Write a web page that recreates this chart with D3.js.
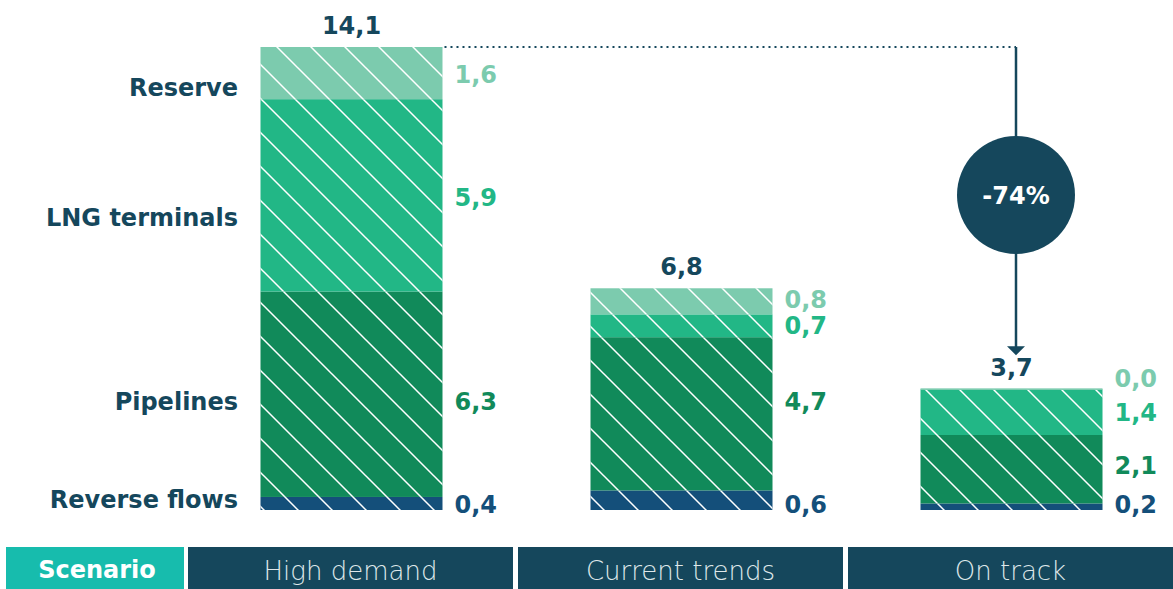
<!DOCTYPE html>
<html>
<head>
<meta charset="utf-8">
<script src="https://cdn.jsdelivr.net/npm/d3@7"></script>
<style>
  body { margin: 0; background: #fff; }
  svg { display: block; font-family: "DejaVu Sans", sans-serif; }
</style>
</head>
<body>
<script>
// chart data
const scenarios = ["High demand", "Current trends", "On track"];
const categories = ["Reverse flows", "Pipelines", "LNG terminals", "Reserve"];
const reverseFlows = [0.4, 0.6, 0.2];
const pipelines = [6.3, 4.7, 2.1];
const lngTerminals = [5.9, 0.7, 1.4];
const reserve = [1.6, 0.8, 0.0];
const totals = [14.1, 6.8, 3.7];
const changeLabel = "-74%";

const colors = {"Reverse flows": "#144f7a", "Pipelines": "#118a5a", "LNG terminals": "#22b786", "Reserve": "#7ccbae"};
const dark = "#15475c";

const W = 1173, H = 589;
const svg = d3.select("body").append("svg").attr("width", W).attr("height", H);

// hatch pattern
const defs = svg.append("defs");
const pat = defs.append("pattern")
  .attr("id", "hatch").attr("patternUnits", "userSpaceOnUse")
  .attr("patternTransform", "translate(26,0)")
  .attr("width", 34).attr("height", 34);
pat.append("path")
  .attr("d", "M0,0 L34,34 M-2,32 L2,36 M32,-2 L36,2")
  .attr("stroke", "#fff").attr("stroke-width", 1.5);

// rows for stacking
const rows = scenarios.map((s, i) => ({
  scenario: s,
  "Reverse flows": reverseFlows[i],
  "Pipelines": pipelines[i],
  "LNG terminals": lngTerminals[i],
  "Reserve": reserve[i]
}));
const series = d3.stack().keys(categories)(rows);

const x = d3.scaleBand().domain(scenarios).range([188, 1173]).paddingInner(0.0152);
const barW = 182;
const y = d3.scaleLinear().domain([0, d3.max(series[series.length - 1], d => d[1])]).range([510, 47]);
const barX = s => x(s) + x.bandwidth() / 2 - barW / 2 + 1;

// bars
const g = svg.append("g");
series.forEach(ser => {
  g.selectAll(null).data(ser).join("rect")
    .attr("x", d => barX(d.data.scenario))
    .attr("y", d => y(d[1]))
    .attr("width", barW)
    .attr("height", d => Math.max(0, y(d[0]) - y(d[1])))
    .attr("fill", colors[ser.key]);
  g.selectAll(null).data(ser).join("rect")
    .attr("x", d => barX(d.data.scenario))
    .attr("y", d => y(d[1]))
    .attr("width", barW)
    .attr("height", d => Math.max(0, y(d[0]) - y(d[1])))
    .attr("fill", "url(#hatch)");
});
// thin light line on top of empty reserve segment
g.selectAll(null).data(series[3].filter(d => d[1] - d[0] === 0)).join("rect")
  .attr("x", d => barX(d.data.scenario)).attr("y", d => y(d[1]) - 1)
  .attr("width", barW).attr("height", 1.5).attr("fill", colors["Reserve"]);

const fmt = v => v.toFixed(1).replace(".", ",");

// category labels on the left (next to first bar)
const catOffset = {"Reverse flows": -3, "Pipelines": 8, "LNG terminals": 23, "Reserve": 15};
series.forEach(ser => {
  const d = ser[0];
  svg.append("text")
    .attr("x", 238).attr("y", (y(d[0]) + y(d[1])) / 2 + catOffset[ser.key])
    .attr("text-anchor", "end").attr("dominant-baseline", "central")
    .attr("font-size", 24).attr("font-weight", 700).attr("fill", dark)
    .text(ser.key);
});

// value labels to the right of the bars
const valOffset = [
  {"Reverse flows": 1.5, "Pipelines": 8, "LNG terminals": 3, "Reserve": 2},
  {"Reverse flows": 5, "Pipelines": -12, "LNG terminals": 0, "Reserve": -1},
  {"Reverse flows": -2, "Pipelines": -3, "LNG terminals": 1, "Reserve": -10}
];
series.forEach(ser => {
  ser.forEach((d, i) => {
    const mid = (y(d[0]) + y(d[1])) / 2;
    svg.append("text")
      .attr("x", barX(d.data.scenario) + barW + 12)
      .attr("y", mid + valOffset[i][ser.key])
      .attr("dominant-baseline", "central")
      .attr("font-size", 24).attr("font-weight", 700).attr("fill", colors[ser.key])
      .text(fmt(d[1] - d[0]));
  });
});

// totals
svg.selectAll(null).data(scenarios).join("text")
  .attr("x", s => x(s) + x.bandwidth() / 2 + 1)
  .attr("y", (s, i) => y(d3.max(series, ser => ser[i][1])) - 21)
  .attr("text-anchor", "middle").attr("dominant-baseline", "central")
  .attr("font-size", 24).attr("font-weight", 700).attr("fill", dark)
  .text((s, i) => fmt(totals[i]));

// change indicator
const top1 = y(d3.max(series, ser => ser[0][1]));
const arrowX = 1016;
svg.append("line")
  .attr("x1", barX(scenarios[0]) + barW + 2).attr("x2", arrowX)
  .attr("y1", top1).attr("y2", top1)
  .attr("stroke", dark).attr("stroke-width", 2.2).attr("stroke-dasharray", "2,4");
const top3 = y(d3.max(series, ser => ser[2][1]));
svg.append("line")
  .attr("x1", arrowX).attr("x2", arrowX)
  .attr("y1", top1).attr("y2", top3 - 42)
  .attr("stroke", dark).attr("stroke-width", 2.5);
svg.append("path")
  .attr("d", `M${arrowX - 9},${top3 - 43} L${arrowX + 9},${top3 - 43} L${arrowX},${top3 - 34} Z`)
  .attr("fill", dark);
svg.append("circle").attr("cx", arrowX).attr("cy", 195).attr("r", 59).attr("fill", dark);
svg.append("text")
  .attr("x", arrowX).attr("y", 196)
  .attr("text-anchor", "middle").attr("dominant-baseline", "central")
  .attr("font-size", 24).attr("font-weight", 700).attr("fill", "#fff")
  .text(changeLabel);

// bottom scenario band
const bandY = 547, bandH = 42;
svg.append("rect").attr("x", 6).attr("y", bandY).attr("width", 178).attr("height", bandH).attr("fill", "#17bcad");
svg.append("text").attr("x", 97).attr("y", bandY + bandH / 2 + 2)
  .attr("text-anchor", "middle").attr("dominant-baseline", "central")
  .attr("font-size", 24).attr("font-weight", 700).attr("fill", "#fff").text("Scenario");
svg.selectAll(null).data(scenarios).join("rect")
  .attr("x", s => x(s)).attr("y", bandY).attr("width", x.bandwidth()).attr("height", bandH)
  .attr("fill", dark);
svg.selectAll(null).data(scenarios).join("text")
  .attr("x", s => x(s) + x.bandwidth() / 2).attr("y", bandY + bandH / 2 + 3)
  .attr("text-anchor", "middle").attr("dominant-baseline", "central")
  .attr("font-size", 26).attr("font-weight", 200).attr("fill", "#dfe7ea")
  .text(s => s);
</script>
</body>
</html>
